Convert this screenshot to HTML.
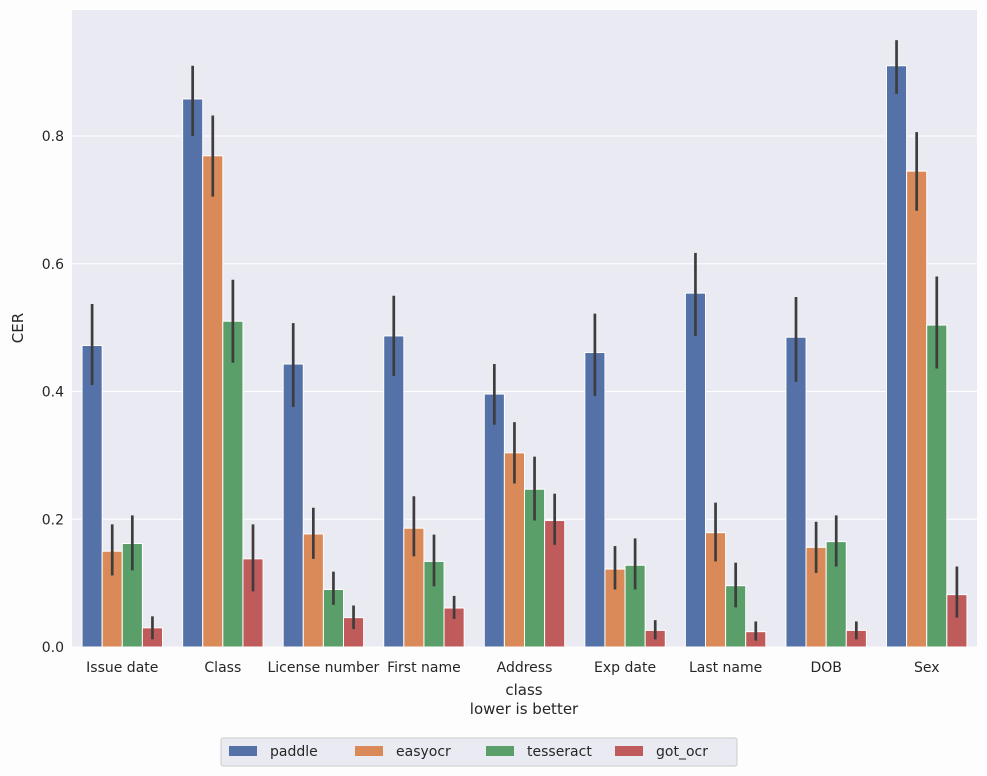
<!DOCTYPE html>
<html><head><meta charset="utf-8"><style>
body{margin:0;background:#fff;}
svg{display:block;font-family:"DejaVu Sans","Liberation Sans",sans-serif;}
</style></head><body>
<svg id="chart" width="987" height="776">
<rect x="0" y="0" width="987" height="776" fill="#fdfdfe"/>
<rect x="72" y="10" width="905" height="637" fill="#eaeaf2"/>
<g id="grid"></g><g id="bars"></g><g id="ticks"></g>
<text x="524" y="695" font-size="15" text-anchor="middle" fill="#262626">class</text>
<text x="524" y="714" font-size="15" text-anchor="middle" fill="#262626">lower is better</text>
<text x="23" y="328" font-size="15" text-anchor="middle" fill="#262626" transform="rotate(-90 23 328)">CER</text>
<g id="legend">
<rect x="221" y="738" width="516" height="28" fill="#eaeaf2" stroke="#cccccc" rx="2"/>
</g>
</svg>
<script>
const categories=["Issue date","Class","License number","First name","Address","Exp date","Last name","DOB","Sex"];
const seriesNames=["paddle","easyocr","tesseract","got_ocr"];
const paddle=[0.472,0.858,0.443,0.487,0.396,0.461,0.554,0.485,0.910];
const easyocr=[0.150,0.769,0.177,0.186,0.304,0.122,0.179,0.156,0.745];
const tesseract=[0.162,0.510,0.090,0.134,0.247,0.128,0.096,0.165,0.504];
const got_ocr=[0.030,0.138,0.046,0.061,0.198,0.026,0.024,0.026,0.082];
const paddleLo=[0.41,0.80,0.376,0.424,0.348,0.393,0.487,0.415,0.866];
const paddleHi=[0.537,0.91,0.507,0.55,0.443,0.522,0.617,0.548,0.95];
const easyLo=[0.112,0.705,0.138,0.142,0.256,0.09,0.134,0.116,0.683];
const easyHi=[0.192,0.832,0.218,0.236,0.352,0.158,0.226,0.196,0.806];
const tessLo=[0.12,0.445,0.066,0.095,0.198,0.09,0.062,0.126,0.436];
const tessHi=[0.206,0.575,0.118,0.176,0.298,0.17,0.132,0.206,0.58];
const gotLo=[0.012,0.087,0.028,0.044,0.16,0.012,0.01,0.012,0.046];
const gotHi=[0.048,0.192,0.065,0.08,0.24,0.042,0.04,0.04,0.126];
const yTicks=[0,0.2,0.4,0.6,0.8];
const colors=["#5572a8","#d98a58","#5a9e6a","#c05b5c"];
const NS="http://www.w3.org/2000/svg";
const X0=72,W=905,Y0=647,pxPerUnit=638.75;
const step=W/categories.length;
const y=v=>Y0-v*pxPerUnit;
const xc=i=>X0+step*(i+0.5);
function mk(tag,attrs,parent){const e=document.createElementNS(NS,tag);for(const k in attrs)e.setAttribute(k,attrs[k]);parent.appendChild(e);return e;}
const grid=document.getElementById('grid'),bars=document.getElementById('bars'),ticks=document.getElementById('ticks');
yTicks.forEach(t=>{
 const l=mk('line',{x1:X0,x2:X0+W,y1:y(t),y2:y(t),stroke:'#fff','stroke-width':1},grid);
 
 
 const tx=mk('text',{x:X0-8,y:y(t)+5,'font-size':14,'text-anchor':'end',fill:'#262626'},ticks);
 tx.textContent=t.toFixed(1);
 
 
});
const vals=[paddle,easyocr,tesseract,got_ocr],los=[paddleLo,easyLo,tessLo,gotLo],his=[paddleHi,easyHi,tessHi,gotHi];
const bw=step*0.8/4;
categories.forEach((c,i)=>{
 const tx=mk('text',{x:xc(i),y:672,'font-size':14,'text-anchor':'middle',fill:'#262626'},ticks);
 tx.textContent=c;
 
 
 for(let s=0;s<4;s++){
  const bx=xc(i)-step*0.4+s*bw;
  const r=mk('rect',{x:bx,y:y(vals[s][i]),width:bw,height:Y0-y(vals[s][i]),fill:colors[s],stroke:'#fff','stroke-width':1},bars);
  
  
  const e=mk('line',{x1:bx+bw/2,x2:bx+bw/2,y1:y(los[s][i]),y2:y(his[s][i]),stroke:'#3d3d3d','stroke-width':2.7},bars);
  
  
 }
});
const leg=document.getElementById('legend');
const lx=[229,355,486,615];
seriesNames.forEach((n,s)=>{
 const g=mk('g',{},leg);
 
 
 mk('rect',{x:lx[s],y:746,width:28,height:10,fill:colors[s]},g);
 const t=mk('text',{x:lx[s]+41,y:756,'font-size':14,fill:'#262626'},g);
 t.textContent=n;
});
</script>
</body></html>
